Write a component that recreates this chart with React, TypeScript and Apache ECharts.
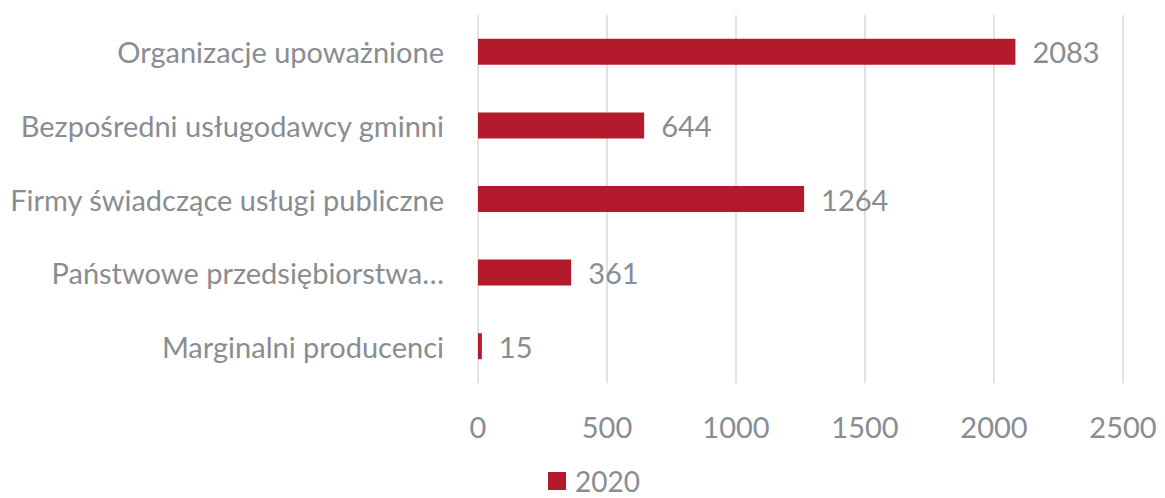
import React, { useEffect, useRef } from "react";
import * as echarts from "echarts";

const categories = [
  "Organizacje upoważnione",
  "Bezpośredni usługodawcy gminni",
  "Firmy świadczące usługi publiczne",
  "Państwowe przedsiębiorstwa…",
  "Marginalni producenci",
];
const values2020 = [2083, 644, 1264, 361, 15];
const seriesName = "2020";
const xTicks = { min: 0, max: 2500, interval: 500 };

const FONT = "Lato, 'Open Sans', sans-serif";
const TEXT = "#898D91";
const FS = 29;

export default function App() {
  const ref = useRef<HTMLDivElement>(null);
  useEffect(() => {
    document.body.style.margin = "0";
    const chart = echarts.init(ref.current!, null, { renderer: "svg" });
    chart.setOption({
      animation: false,
      grid: { left: 478, right: 42, top: 15, bottom: 115 },
      legend: {
        top: 466,
        left: 548,
        padding: 0,
        itemWidth: 18,
        itemHeight: 18,
        icon: "rect",
        textStyle: {
          color: TEXT,
          fontSize: 28,
          fontFamily: FONT,
          lineHeight: 30,
          padding: [0, 0, 0, 4],
        },
        data: [seriesName],
      },
      xAxis: {
        type: "value",
        min: xTicks.min,
        max: xTicks.max,
        interval: xTicks.interval,
        axisLine: { show: false },
        axisTick: { show: false },
        splitLine: { lineStyle: { color: "#E2E2E2", width: 2 } },
        axisLabel: {
          color: TEXT,
          fontSize: FS,
          fontFamily: FONT,
          margin: 29,
          formatter: (v: number) => String(v),
        },
      },
      yAxis: {
        type: "category",
        inverse: true,
        data: categories,
        axisLine: { show: false },
        axisTick: { show: false },
        axisLabel: { color: TEXT, fontSize: FS, fontFamily: FONT, margin: 34 },
      },
      series: [
        {
          name: seriesName,
          type: "bar",
          data: values2020,
          barWidth: 26,
          itemStyle: { color: "#B41A2B" },
          label: {
            show: true,
            position: "right",
            distance: 17,
            color: TEXT,
            fontSize: FS,
            fontFamily: FONT,
          },
        },
      ],
    });
    return () => chart.dispose();
  }, []);
  return <div ref={ref} style={{ width: 1165, height: 498 }} />;
}
